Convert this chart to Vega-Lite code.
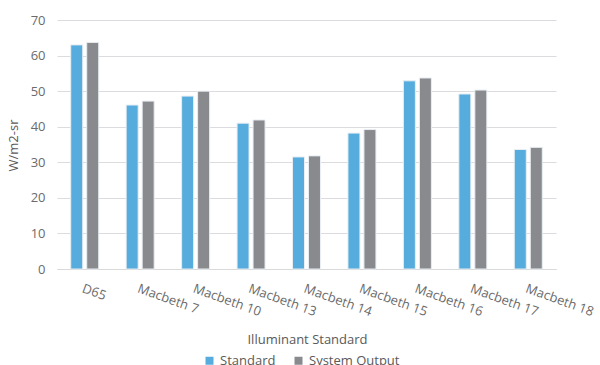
{
  "$schema": "https://vega.github.io/schema/vega-lite/v6.json",
  "autosize": "none",
  "width": 499,
  "height": 249,
  "padding": {"left": 57, "top": 20, "right": 44, "bottom": 96},
  "background": "white",
  "config": {
    "font": "Open Sans",
    "view": {"stroke": null}
  },
  "data": {
    "values": [
      {"illuminant": "D65", "series": "Standard", "value": 63.0},
      {"illuminant": "D65", "series": "System Output", "value": 63.7},
      {"illuminant": "Macbeth 7", "series": "Standard", "value": 46.1},
      {"illuminant": "Macbeth 7", "series": "System Output", "value": 47.2},
      {"illuminant": "Macbeth 10", "series": "Standard", "value": 48.6},
      {"illuminant": "Macbeth 10", "series": "System Output", "value": 50.0},
      {"illuminant": "Macbeth 13", "series": "Standard", "value": 41.0},
      {"illuminant": "Macbeth 13", "series": "System Output", "value": 41.9},
      {"illuminant": "Macbeth 14", "series": "Standard", "value": 31.5},
      {"illuminant": "Macbeth 14", "series": "System Output", "value": 31.8},
      {"illuminant": "Macbeth 15", "series": "Standard", "value": 38.2},
      {"illuminant": "Macbeth 15", "series": "System Output", "value": 39.2},
      {"illuminant": "Macbeth 16", "series": "Standard", "value": 52.9},
      {"illuminant": "Macbeth 16", "series": "System Output", "value": 53.7},
      {"illuminant": "Macbeth 17", "series": "Standard", "value": 49.2},
      {"illuminant": "Macbeth 17", "series": "System Output", "value": 50.3},
      {"illuminant": "Macbeth 18", "series": "Standard", "value": 33.6},
      {"illuminant": "Macbeth 18", "series": "System Output", "value": 34.2}
    ]
  },
  "mark": {"type": "bar", "stroke": "#e8eef3", "strokeWidth": 1},
  "encoding": {
    "x": {
      "field": "illuminant",
      "type": "nominal",
      "sort": null,
      "scale": {"paddingInner": 0.495, "paddingOuter": 0.2475},
      "axis": {
        "title": "Illuminant Standard",
        "titleFont": "Open Sans",
        "titleFontSize": 13,
        "titleFontWeight": "normal",
        "titleColor": "#595959",
        "titleX": 250,
        "titleY": 64,
        "labelAngle": 20,
        "labelAlign": "left",
        "labelBaseline": "top",
        "labelFontSize": 13,
        "labelColor": "#6b6b6b",
        "labelPadding": 13,
        "labelDx": -2,
        "ticks": false,
        "domainColor": "#d9d9d9",
        "labelOverlap": false
      }
    },
    "xOffset": {
      "field": "series",
      "type": "nominal",
      "scale": {"paddingInner": 0.25}
    },
    "y": {
      "field": "value",
      "type": "quantitative",
      "scale": {"domain": [0, 70]},
      "axis": {
        "title": "W/m2-sr",
        "titleFontSize": 13,
        "titleFontWeight": "normal",
        "titleColor": "#595959",
        "titleX": -44,
        "titleY": 125,
        "titleAlign": "center",
        "titleBaseline": "middle",
        "values": [0, 10, 20, 30, 40, 50, 60, 70],
        "labelFontSize": 13,
        "labelColor": "#6b6b6b",
        "labelPadding": 12,
        "ticks": false,
        "domain": false,
        "gridColor": "#dcdce0",
        "gridWidth": 1
      }
    },
    "color": {
      "field": "series",
      "type": "nominal",
      "scale": {"domain": ["Standard", "System Output"], "range": ["#56acdc", "#898a8e"]},
      "legend": {
        "title": null,
        "orient": "none",
        "direction": "horizontal",
        "legendX": 146,
        "legendY": 334,
        "symbolType": "square",
        "symbolSize": 64,
        "symbolStrokeWidth": 0,
        "labelFontSize": 13,
        "labelColor": "#595959",
        "columnPadding": 16,
        "labelOffset": 4
      }
    }
  }
}
